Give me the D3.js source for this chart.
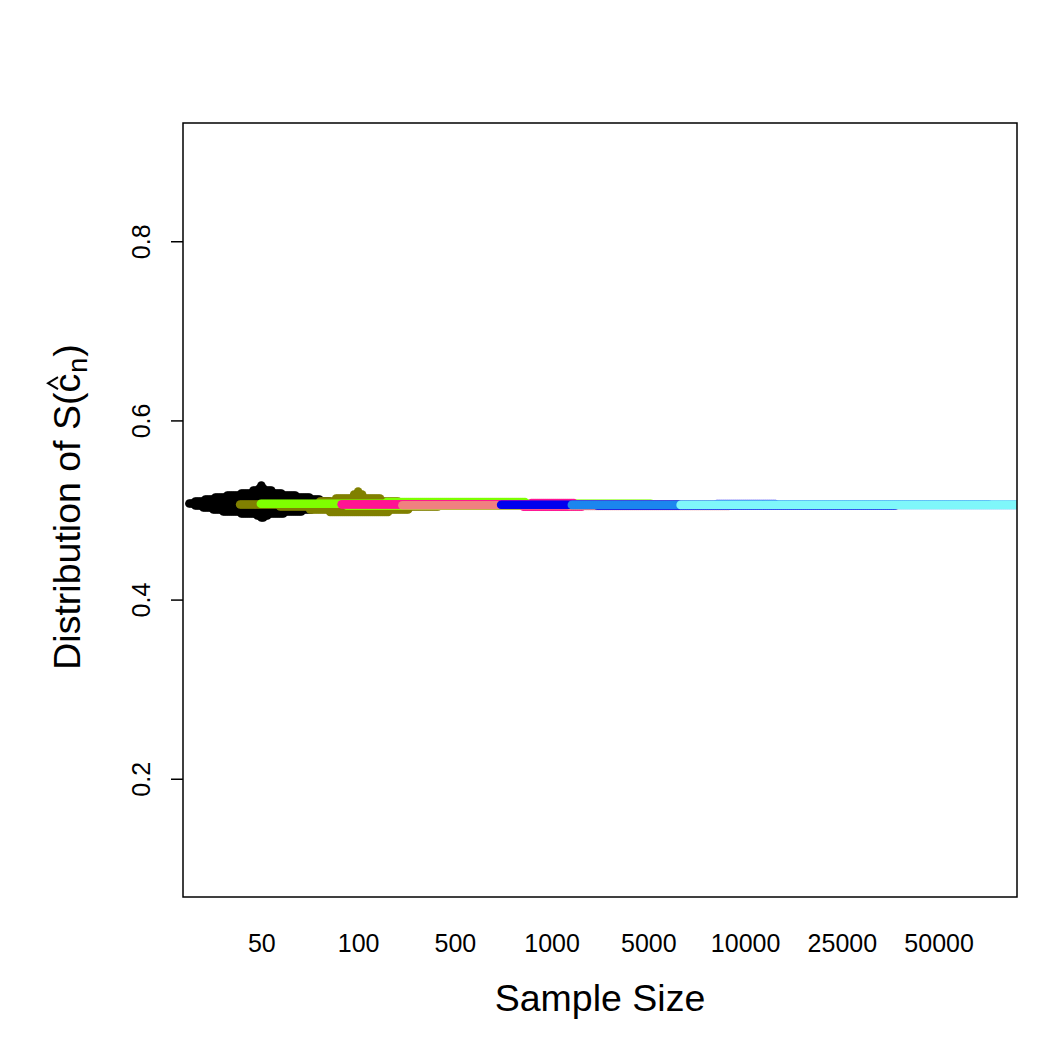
<!DOCTYPE html>
<html lang="en">
<head>
<meta charset="utf-8">
<title>Distribution of S(c_n) by sample size</title>
<script type="text/javascript" src="https://d3js.org/d3.v7.min.js"></script>
<style>
body { margin: 0; background: #ffffff; }
text { font-family: "Liberation Sans", Arial, Helvetica, sans-serif; fill: #000000; }
</style>
</head>
<body>
<div id="container"></div>
<script type="text/javascript">
// categories on the x axis
var sampleSizes = ["50", "100", "500", "1000", "5000", "10000", "25000", "50000"];
var yTicks = [0.2, 0.4, 0.6, 0.8];

// per sample size: distinct values of S(c_n) and how many runs landed there
var n50Values    = [0.5274, 0.5240, 0.5218, 0.5184, 0.5162, 0.5140, 0.5117, 0.5095, 0.5073, 0.5050, 0.5028, 0.5006, 0.4983, 0.4961, 0.4939, 0.4916];
var n50Counts    = [1, 3, 10, 21, 35, 48, 58, 68, 73, 68, 60, 50, 40, 22, 6, 2];
var n100Values   = [0.5207, 0.5173, 0.5128, 0.5095, 0.5061, 0.5040, 0.5006, 0.4978];
var n100Counts   = [1, 5, 23, 40, 120, 80, 50, 30];
var n500Values   = [0.5090, 0.5070, 0.5048];
var n500Counts   = [70, 196, 110];
var n1000Values  = [0.5078, 0.5063, 0.5038];
var n1000Counts  = [22, 212, 30];
var n5000Values  = [0.5053, 0.5044];
var n5000Counts  = [248, 80];
var n10000Values = [0.5067, 0.5058, 0.5050];
var n10000Counts = [30, 245, 150];
var n25000Values = [0.5057];
var n25000Counts = [271];
var n50000Values = [0.5057];
var n50000Counts = [259];

var groupValues = [n50Values, n100Values, n500Values, n1000Values, n5000Values, n10000Values, n25000Values, n50000Values];
var groupCounts = [n50Counts, n100Counts, n500Counts, n1000Counts, n5000Counts, n10000Counts, n25000Counts, n50000Counts];
var groupColors = ["#000000", "#808000", "#7FFF00", "#FF1493", "#F08080", "#0000EE", "#1C86EE", "#7FF7FA"];

var w = 1050;
var h = 1050;
var plotL = 183, plotR = 1017, plotT = 123, plotB = 897;
var dotR = 4.3;
var swarmStep = 2; // px between neighbouring points in a swarm row

var svg = d3.select("div#container").append("svg")
    .attr("width", w).attr("height", h)
    .style("background-color", "#ffffff");

var x = d3.scalePoint().domain(sampleSizes).range([plotL, plotR]).padding(0.81);
var y = d3.scaleLinear().domain([0.068, 0.932]).range([plotB, plotT]);

svg.append("clipPath").attr("id", "plotClip")
    .append("rect")
    .attr("x", plotL).attr("y", plotT)
    .attr("width", plotR - plotL).attr("height", plotB - plotT);

// build the swarm: each value level becomes a row of points centred on its category
var points = [];
sampleSizes.forEach(function(s, gi) {
    var vals = groupValues[gi];
    var cnts = groupCounts[gi];
    for (var j = 0; j < vals.length; j++) {
        for (var k = 0; k < cnts[j]; k++) {
            var side = (k % 2 === 1) ? 1 : -1;
            var off = side * Math.ceil(k / 2) * swarmStep;
            points.push({group: gi, size: s, value: vals[j], offset: off});
        }
    }
});

svg.append("g")
    .attr("clip-path", "url(#plotClip)")
    .selectAll("circle")
    .data(points)
    .enter()
    .append("circle")
    .attr("cx", function(d) { return x(d.size) + d.offset; })
    .attr("cy", function(d) { return y(d.value); })
    .attr("r", dotR)
    .attr("fill", function(d) { return groupColors[d.group]; });

// y axis, labels parallel to the axis
var yAxis = svg.append("g")
    .attr("transform", "translate(" + plotL + ",0)")
    .call(d3.axisLeft(y).tickValues(yTicks).tickSize(12).tickFormat(d3.format(".1f")));
yAxis.select(".domain").remove();
yAxis.selectAll("line").attr("stroke", "#000").attr("stroke-width", 1.5);
yAxis.selectAll("text")
    .attr("x", 0).attr("y", -33).attr("dy", 0)
    .attr("transform", "rotate(-90)")
    .attr("text-anchor", "middle")
    .attr("font-size", 25)
    .style("font-family", "'Liberation Sans', Arial, sans-serif")
    .attr("fill", "#000");

// x axis: labels only, no ticks
var xAxis = svg.append("g")
    .attr("transform", "translate(0," + plotB + ")")
    .call(d3.axisBottom(x).tickSize(0).tickPadding(0));
xAxis.select(".domain").remove();
xAxis.selectAll("text")
    .attr("y", 55).attr("dy", 0)
    .attr("font-size", 25)
    .style("font-family", "'Liberation Sans', Arial, sans-serif")
    .attr("fill", "#000");

// box
svg.append("rect")
    .attr("x", plotL).attr("y", plotT)
    .attr("width", plotR - plotL).attr("height", plotB - plotT)
    .attr("fill", "none").attr("stroke", "#000").attr("stroke-width", 1.5);

// x title
svg.append("text")
    .attr("x", (plotL + plotR) / 2).attr("y", 1011)
    .attr("text-anchor", "middle")
    .attr("font-size", 37.5)
    .text("Sample Size");

// y title: Distribution of S(c-hat sub n)
var yTitle = svg.append("g").attr("transform", "translate(80," + 507 + ") rotate(-90)");
var part1 = yTitle.append("text").attr("font-size", 37.5).text("Distribution of S(");
var partC = yTitle.append("text").attr("font-size", 37.5).text("c");
var partN = yTitle.append("text").attr("font-size", 27).attr("dy", 7).text("n");
var part2 = yTitle.append("text").attr("font-size", 37.5).text(")");
var w1 = part1.node().getComputedTextLength();
var wC = partC.node().getComputedTextLength();
var wN = partN.node().getComputedTextLength();
var w2 = part2.node().getComputedTextLength();
var total = w1 + wC + wN + w2 + 2;
var x0 = -total / 2;
part1.attr("x", x0);
partC.attr("x", x0 + w1);
partN.attr("x", x0 + w1 + wC + 1);
part2.attr("x", x0 + w1 + wC + wN + 2);
// hat over the c
var hatX = x0 + w1 + wC / 2;
yTitle.append("path")
    .attr("d", "M" + (hatX - 6) + "," + (-22) + "L" + hatX + "," + (-32) + "L" + (hatX + 6) + "," + (-22))
    .attr("fill", "none").attr("stroke", "#000").attr("stroke-width", 2);
</script>
</body>
</html>
